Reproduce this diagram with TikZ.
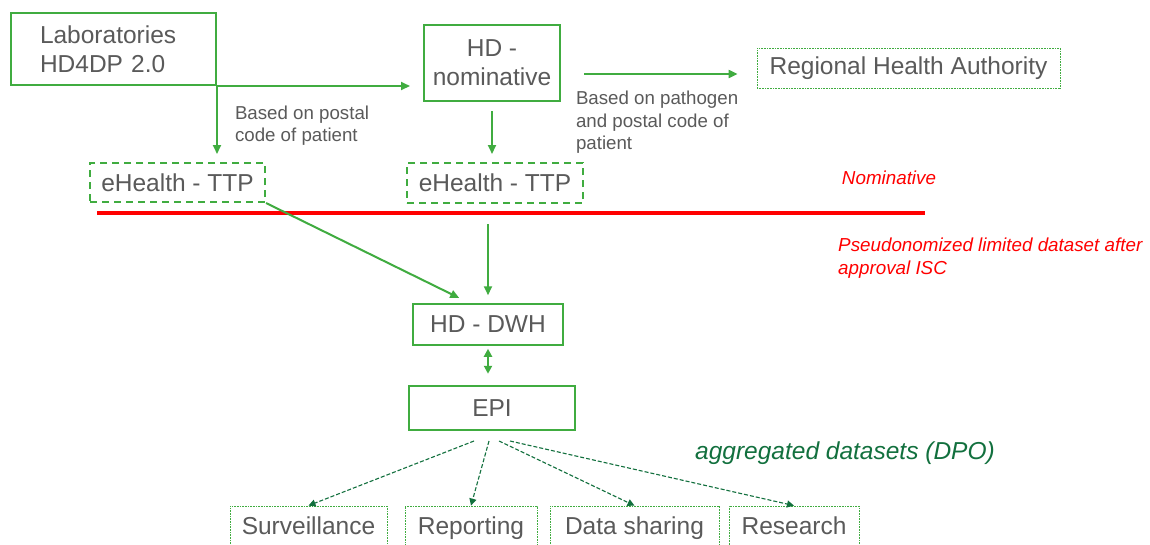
\documentclass[tikz,border=0pt]{standalone}
\usepackage{fontspec}
\setmainfont{Liberation Sans}
\usetikzlibrary{positioning}
\usetikzlibrary{arrows.meta}
\definecolor{boxgreen}{RGB}{64,172,64}
\definecolor{darkgreen}{RGB}{18,112,62}
\definecolor{txtgray}{RGB}{90,90,90}
\definecolor{linered}{RGB}{255,0,0}
\tikzset{x=1pt, y=1pt,
box/.style={ % green frame of every block
draw=boxgreen, line width=2pt, text=txtgray,
font=\fontsize{24.5}{29}\selectfont, inner sep=0pt, align=center},
ttpbox/.style={box, dash pattern=on 7pt off 5pt},
outbox/.style={box, line width=0.8pt, dash pattern=on 0.8pt off 0.8pt,
text height=18pt, text depth=5pt},
note/.style={text=txtgray, font=\fontsize{18.7}{22.5}\selectfont, align=left, inner sep=0pt},
remark/.style={text=linered, font=\fontsize{18.8}{22.5}\selectfont\itshape, align=left, inner sep=0pt},
every edge/.style={ % green data flows
draw=boxgreen, line width=2pt,
-{Triangle[length=9pt,width=8pt]}},
spread/.style={draw=darkgreen, line width=1.1pt, dash pattern=on 4pt off 2pt,
-{Triangle[length=7pt,width=7pt]}}}

\begin{document}
\begin{tikzpicture}
	\useasboundingbox (0,0) rectangle (1150,-544);
	\fill[white] (0,0) rectangle (1150,-544);
	% upper part
	\node[box, minimum width=205pt, minimum height=72pt, text width=147pt, inner xsep=29pt, align=left] (labs) at (113.5,-49) {Laboratories\\HD4DP 2.0};
	\node[box, minimum width=136pt, minimum height=76pt] (hdnom) at (492,-63) {HD -\\nominative};
	\node[outbox, minimum width=303pt, minimum height=40pt] (rha) at (908.5,-68) {Regional Health Authority};
	\node[ttpbox, minimum width=175pt, minimum height=39pt] (ttpA) at (177.5,-182.5) {eHealth - TTP};
	\node[ttpbox, minimum width=176pt, minimum height=40pt] (ttpB) at (495,-183) {eHealth - TTP};
	% border nominative / pseudonymised
	\coordinate (cutL) at (97,-213);
	\coordinate (cutR) at (925,-213);
	\draw[linered, line width=3.8pt] (cutL) -- (cutR);
	\node[remark] (nomlbl) at (889,-178) {Nominative};
	\node[remark, anchor=west] (pseudo) at (838,-258) {Pseudonomized limited dataset after\\approval ISC};
	% lower part
	\node[box, line width=1.5pt, minimum width=150pt, minimum height=41pt] (dwh) at (488,-324.5) {HD - DWH};
	\node[box, line width=2.5pt, minimum width=166pt, minimum height=44pt] (epi) at (492,-408) {EPI};
	\node[font=\fontsize{24.5}{29}\selectfont\itshape, text=darkgreen] (aggr) at (845,-453) {aggregated datasets (DPO)};
	\node[outbox, minimum width=157pt, minimum height=44pt] (surv) at (308.5,-528) {Surveillance};
	\node[outbox, minimum width=132pt, minimum height=44pt] (rep) at (471,-528) {Reporting};
	\node[outbox, minimum width=169pt, minimum height=44pt] (share) at (634.5,-528) {Data sharing};
	\node[outbox, minimum width=130pt, minimum height=44pt] (res) at (794,-528) {Research};
	\coordinate (e1) at (474,-441);
	\coordinate (e2) at (489,-441);
	\coordinate (e3) at (499,-441);
	\coordinate (e4) at (510,-441);
	% flows
	\draw (labs.south east) edge[shorten >=13pt] (hdnom.west |- labs.south east);
	\draw (labs.south east) edge[shorten >=8pt] node[note, pos=0.52, right=17pt] {Based on postal\\code of patient} (labs.south east |- ttpA.north);
	\draw (hdnom.south) edge[shorten <=9pt, shorten >=8pt] (hdnom.south |- ttpB.north);
	\draw ([xshift=23pt,yshift=-11pt]hdnom.east) edge node[note, pos=0, anchor=north west, xshift=-9pt, yshift=-16pt] {Based on pathogen\\and postal code of\\patient} ([xshift=-19pt,yshift=-6pt]rha.west);
	\draw (ttpA.south east) edge[shorten >=12pt] ([xshift=-18pt]dwh.north);
	\draw (dwh.north |- ttpB.south) edge[shorten <=20pt, shorten >=8pt] (dwh.north);
	\draw (dwh.south) edge[{Triangle[length=8pt,width=8pt]}-{Triangle[length=8pt,width=8pt]}, shorten <=3pt, shorten >=11pt] (dwh.south |- epi.north);
	\draw (e1) edge[spread] (surv.north);
	\draw (e2) edge[spread] (rep.north);
	\draw (e3) edge[spread] (share.north);
	\draw (e4) edge[spread] (res.north);
\end{tikzpicture}
\end{document}
